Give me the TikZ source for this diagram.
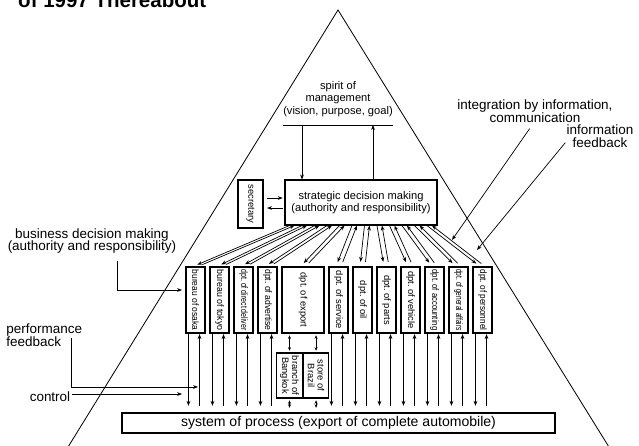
\documentclass[tikz,border=0pt]{standalone}
\usepackage{fontspec}
\setmainfont{Liberation Sans}
\usepackage{graphicx}
\usetikzlibrary{arrows.meta,positioning,calc}
\frenchspacing
\tikzset{
    flowarrow/.style={
        line width=0.6pt,
        black,
        -{Stealth[length=4.2pt, width=3.2pt]}
    },
    % double headed arrow between export and its branches
    twoarrow/.style={
        line width=0.6pt,
        {Stealth[length=3pt, width=2.6pt]}-{Stealth[length=3pt, width=2.6pt]}
    },
    unitbox/.style={draw, line width=0.9pt, inner sep=1pt},
    deptbox/.style={unitbox, minimum width=0.57cm, minimum height=1.98cm},
    depttext/.style={rotate=-90, font=\fontsize{8}{8.4}\selectfont, inner sep=0pt},
    bigtext/.style={font=\fontsize{11.5}{11}\selectfont, align=center, inner sep=1pt},
    smalltext/.style={font=\fontsize{9.5}{10.5}\selectfont, align=center, inner sep=1pt}
}

\begin{document}
\begin{tikzpicture}[x=0.03cm, y=-0.03cm]
	\useasboundingbox (0,0) rectangle (639,446);
	
	\coordinate (apex) at (338,10);
	\coordinate (baseL) at (60,460);
	\coordinate (baseR) at (617,460);
	\draw[line width=0.7pt] (baseL) -- (apex) -- (baseR);
	
	\node[anchor=base west, inner sep=0pt, font=\fontsize{17.5}{18}\selectfont\bfseries] (title) at (18,7) {of 1997 Thereabout};
	
	\node[smalltext] (spirit) at (338,99) {spirit of\\management\\(vision, purpose, goal)};
	\coordinate (ulL) at (283,125);
	\coordinate (ulR) at (393,125);
	\draw[line width=0.7pt] (ulL) -- (ulR);
	
	\node[unitbox, smalltext, minimum width=4.56cm, minimum height=1.35cm] (strat) at (361,202.5) {strategic decision making\\(authority and responsibility)};
	\node[unitbox, minimum width=0.75cm, minimum height=1.44cm] (sec) at (250.5,204) {};
	\node[depttext] (secT) at (sec) {secretary};
	
	\draw[flowarrow, shorten <=1pt] ([xshift=0.57cm]ulL) -- ([xshift=0.57cm]ulL |- strat.north);
	\draw[flowarrow] ([xshift=-0.6cm]ulR |- strat.north) -- ([xshift=-0.6cm]ulR);
	\draw[flowarrow, shorten <=3pt, shorten >=1.5pt] ([yshift=0.18cm]sec.east) -- ([yshift=0.18cm]sec.east -| strat.west);
	\draw[flowarrow, shorten <=1.5pt, shorten >=3pt] ([yshift=-0.12cm]sec.east -| strat.west) -- ([yshift=-0.12cm]sec.east);
	
	\node[unitbox, font=\fontsize{12}{12}\selectfont, minimum width=12.99cm, minimum height=0.6cm] (proc) at (338.5,423) {system of process (export of complete automobile)};
	
	\foreach \n/\lft/\txt/\scl in {1/186/bureau of osaka/0.9, 2/210/bureau of tokyo/0.94, 3/234/dpt. of direct deliver/0.75, 4/258/dpt. of advertise/0.92, 6/329/dpt. of service/1, 7/353/dpt. of oil/1, 8/377/dpt. of parts/1, 9/401/dpt. of vehicle/1, 10/425/dpt. of accounting/0.82, 11/449/dpt. of general affairs/0.7, 12/473/dpt. of personnel/0.87}{
		\node[deptbox] (d\n) at (\lft+9.5,300) {};
		\node[depttext] (t\n) at (d\n) {\scalebox{\scl}[1]{\txt}};
		\draw[flowarrow, shorten >=0.2cm] ([xshift=0.09cm]d\n.south west) -- ([xshift=0.09cm]d\n.south west |- proc.north);
		\draw[flowarrow, shorten <=0.2cm, shorten >=0.5pt] ([xshift=-0.18cm]d\n.south east |- proc.north) -- ([xshift=-0.18cm]d\n.south east);
	}
	\node[deptbox, minimum width=1.26cm] (d5) at (303,300) {};
	\node[depttext] (t5) at (d5) {dpt. of export};
	
	\foreach \n [evaluate=\n as \q using 5+(\n-1)*12.5] in {1,...,12}{
		\draw[flowarrow, shorten >=4pt] ([xshift=\q*0.03cm]strat.south west) -- ([xshift=-0.075cm]d\n.north);
		\draw[flowarrow, shorten <=4pt] ([xshift=0.075cm]d\n.north) -- ([xshift=\q*0.03cm+0.15cm]strat.south west);
	}
	
	\node[unitbox, minimum width=0.765cm, minimum height=1.35cm] (bangkok) at (289.5,375.5) {};
	\node[unitbox, minimum width=0.765cm, minimum height=1.35cm, right=0pt of bangkok] (brazil) {};
	\node[depttext, align=center] (bangkokT) at (bangkok) {branch of\\Bangkok};
	\node[depttext, align=center] (brazilT) at (brazil) {store of\\Brazil};
	\foreach \b in {bangkok,brazil}{
		\draw[twoarrow, shorten <=1.5pt, shorten >=1.5pt] (\b.north |- d5.south) -- (\b.north);
		\draw[twoarrow, shorten <=1.5pt, shorten >=4pt] (\b.south) -- (\b.south |- proc.north);
	}
	
	\node[bigtext] (biz) at (92,241) {business decision making\\(authority and responsibility)};
	\draw[flowarrow, shorten <=5pt, shorten >=3pt] ([xshift=0.75cm]biz.south) |- ([yshift=0.3cm]d1.west);
	
	\node[bigtext, align=left, anchor=west] (perf) at (5,335) {performance\\feedback};
	\coordinate (perfstart) at (71,338);
	\coordinate (perfend) at (198,387);
	\draw[flowarrow] (perfstart) |- (perfend);
	
	\node[bigtext] (ctrl) at (50,397) {control};
	\coordinate (ctrlend) at (182,394);
	\draw[flowarrow] (ctrl.east |- ctrlend) -- (ctrlend);
	
	\node[bigtext] (integ) at (535,111) {integration by information,\\communication};
	\coordinate (integend) at (452,240);
	\draw[flowarrow, shorten <=5pt] ([xshift=-0.06cm]integ.south) -- (integend);
	
	\node[bigtext] (infofb) at (600,136) {information\\feedback};
	\coordinate (fbend) at (477,250);
	\draw[flowarrow] ([yshift=-0.2cm]infofb.west) -- (fbend);
\end{tikzpicture}
\end{document}
